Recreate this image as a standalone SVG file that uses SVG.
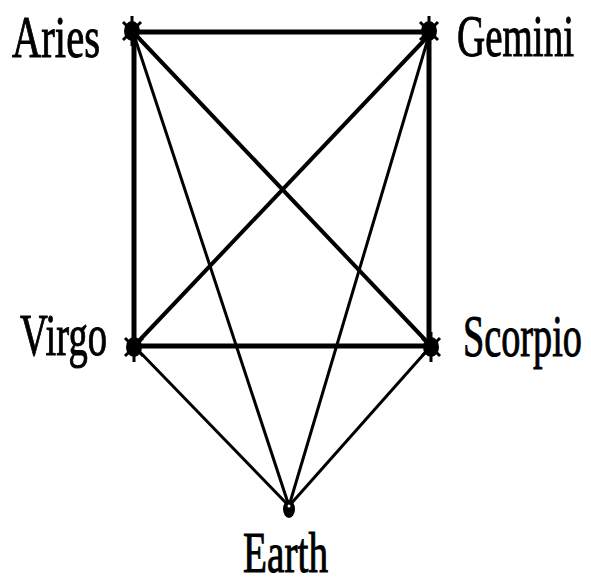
<svg xmlns="http://www.w3.org/2000/svg" width="591" height="585" viewBox="0 0 591 585">
<style>
.e{stroke:#000;stroke-linecap:butt;fill:none}
.w5{stroke-width:5}
.w4{stroke-width:4}
.w3{stroke-width:3}
.lbl{font-family:"Liberation Serif","Times New Roman",serif;font-size:60px;fill:#000;stroke:#000;stroke-width:1}
.dot{fill:#000}
.tick{stroke:#000;stroke-width:3}
</style>
<defs>
<g id="mk">
<ellipse class="dot" cx="0" cy="0" rx="8" ry="10"/>
<line class="tick" x1="0" y1="-15" x2="0" y2="15"/>
<line class="tick" x1="-9" y1="-9" x2="9" y2="9"/>
<line class="tick" x1="-9" y1="9" x2="9" y2="-9"/>
</g>
</defs>
<rect width="591" height="585" fill="#fff"/>
<g id="connectors">
<line class="e w5" x1="133" y1="32" x2="430" y2="32"/>
<line class="e w5" x1="134" y1="32" x2="134" y2="346"/>
<line class="e w5" x1="429" y1="32" x2="429" y2="346"/>
<line class="e w5" x1="134" y1="346" x2="431" y2="346"/>
<line class="e w4" x1="133" y1="32" x2="431" y2="346"/>
<line class="e w4" x1="432" y1="32" x2="134" y2="346"/>
<line class="e w3" x1="133" y1="32" x2="289" y2="506"/>
<line class="e w3" x1="430" y1="32" x2="289" y2="506"/>
<line class="e w3" x1="134" y1="346" x2="289" y2="506"/>
<line class="e w3" x1="431" y1="346" x2="289" y2="506"/>
</g>
<g id="aries">
<use href="#mk" x="132" y="31"/>
<text class="lbl" transform="translate(12,57) scale(0.65,1)" textLength="135.4" lengthAdjust="spacingAndGlyphs">Aries</text>
</g>
<g id="gemini">
<use href="#mk" x="429" y="31"/>
<text class="lbl" transform="translate(457,56) scale(0.65,1)" textLength="180" lengthAdjust="spacingAndGlyphs">Gemini</text>
</g>
<g id="virgo">
<use href="#mk" x="134" y="347"/>
<text class="lbl" transform="translate(20,355) scale(0.65,1)" textLength="133.8" lengthAdjust="spacingAndGlyphs">Virgo</text>
</g>
<g id="scorpio">
<use href="#mk" x="431" y="347"/>
<text class="lbl" transform="translate(463,356) scale(0.65,1)" textLength="183" lengthAdjust="spacingAndGlyphs">Scorpio</text>
</g>
<g id="earth">
<ellipse class="dot" cx="289" cy="509" rx="6" ry="9"/>
<circle cx="289" cy="506" r="1.5" fill="#fff"/>
<text class="lbl" transform="translate(243,572) scale(0.65,1)" textLength="130.8" lengthAdjust="spacingAndGlyphs" style="font-size:56px">Earth</text>
</g>
</svg>
